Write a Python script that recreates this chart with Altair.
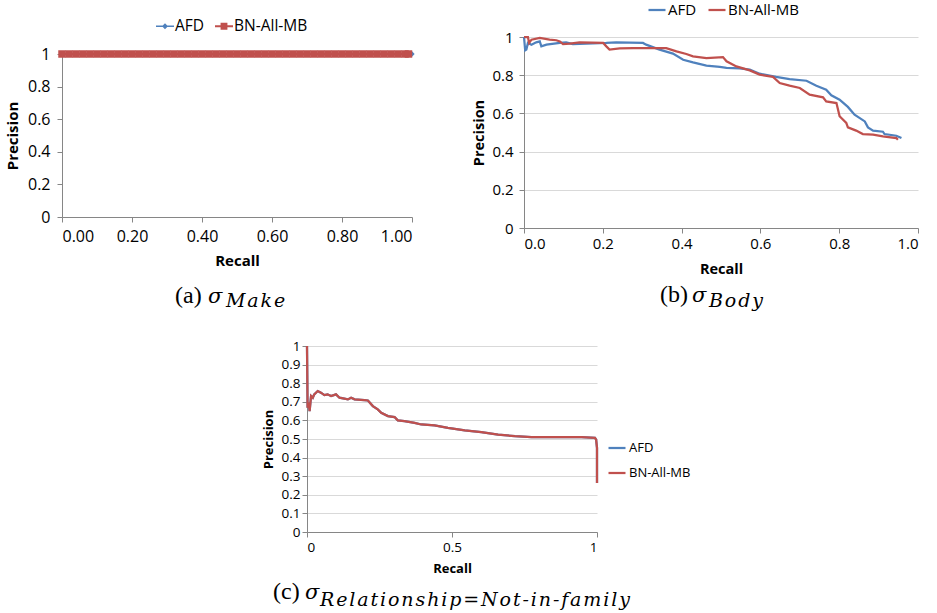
import altair as alt
import pandas as pd

FONT = "Open Sans"
SERIF = "Liberation Serif"
MATH = "DejaVu Serif"
BLUE = "#4F81BD"
RED = "#C0504D"
AXIS = "#868686"
GRID = "#D9D9D9"
SERIES = ["AFD", "BN-All-MB"]
HS = "\u200a"  # hair space, widens the math-italic subscripts

# ---------------- Panel (a): sigma_Make ----------------
a_recall_afd = [0.00, 0.02, 0.04, 0.06, 0.08, 0.10, 0.12, 0.14, 0.16, 0.18,
                0.20, 0.22, 0.24, 0.26, 0.28, 0.30, 0.32, 0.34, 0.36, 0.38,
                0.40, 0.42, 0.44, 0.46, 0.48, 0.50, 0.52, 0.54, 0.56, 0.58,
                0.60, 0.62, 0.64, 0.66, 0.68, 0.70, 0.72, 0.74, 0.76, 0.78,
                0.80, 0.82, 0.84, 0.86, 0.88, 0.90, 0.92, 0.94, 0.96, 0.98, 1.00]
a_prec_afd = [1.0, 1.0, 1.0, 1.0, 1.0, 1.0, 1.0, 1.0, 1.0, 1.0,
              1.0, 1.0, 1.0, 1.0, 1.0, 1.0, 1.0, 1.0, 1.0, 1.0,
              1.0, 1.0, 1.0, 1.0, 1.0, 1.0, 1.0, 1.0, 1.0, 1.0,
              1.0, 1.0, 1.0, 1.0, 1.0, 1.0, 1.0, 1.0, 1.0, 1.0,
              1.0, 1.0, 1.0, 1.0, 1.0, 1.0, 1.0, 1.0, 1.0, 1.0, 1.0]
a_recall_bn = [0.00, 0.02, 0.04, 0.06, 0.08, 0.10, 0.12, 0.14, 0.16, 0.18,
               0.20, 0.22, 0.24, 0.26, 0.28, 0.30, 0.32, 0.34, 0.36, 0.38,
               0.40, 0.42, 0.44, 0.46, 0.48, 0.50, 0.52, 0.54, 0.56, 0.58,
               0.60, 0.62, 0.64, 0.66, 0.68, 0.70, 0.72, 0.74, 0.76, 0.78,
               0.80, 0.82, 0.84, 0.86, 0.88, 0.90, 0.92, 0.94, 0.96, 0.98, 0.99]
a_prec_bn = [1.0, 1.0, 1.0, 1.0, 1.0, 1.0, 1.0, 1.0, 1.0, 1.0,
             1.0, 1.0, 1.0, 1.0, 1.0, 1.0, 1.0, 1.0, 1.0, 1.0,
             1.0, 1.0, 1.0, 1.0, 1.0, 1.0, 1.0, 1.0, 1.0, 1.0,
             1.0, 1.0, 1.0, 1.0, 1.0, 1.0, 1.0, 1.0, 1.0, 1.0,
             1.0, 1.0, 1.0, 1.0, 1.0, 1.0, 1.0, 1.0, 1.0, 1.0, 1.0]
a_xticks = [0.0, 0.2, 0.4, 0.6, 0.8, 1.0]
a_yticks = [0.0, 0.2, 0.4, 0.6, 0.8, 1.0]

# ---------------- Panel (b): sigma_Body ----------------
b_recall_afd = [0.000, 0.003, 0.006, 0.010, 0.019, 0.031, 0.040, 0.044, 0.057, 0.091,
                0.107, 0.124, 0.175, 0.209, 0.234, 0.302, 0.310, 0.344, 0.378, 0.404,
                0.429, 0.463, 0.497, 0.514, 0.547, 0.573, 0.598, 0.640, 0.674, 0.717,
                0.742, 0.767, 0.780, 0.801, 0.822, 0.839, 0.865, 0.873, 0.886, 0.911,
                0.915, 0.945, 0.958]
b_prec_afd = [1.000, 0.930, 0.934, 0.969, 0.960, 0.972, 0.977, 0.951, 0.960, 0.969,
              0.972, 0.963, 0.967, 0.969, 0.972, 0.969, 0.960, 0.934, 0.913, 0.881,
              0.867, 0.850, 0.843, 0.838, 0.836, 0.829, 0.808, 0.791, 0.780, 0.771,
              0.745, 0.724, 0.695, 0.672, 0.634, 0.593, 0.558, 0.527, 0.510, 0.504,
              0.492, 0.483, 0.471]
b_recall_bn = [0.000, 0.010, 0.013, 0.019, 0.040, 0.065, 0.082, 0.091, 0.099, 0.116,
               0.141, 0.201, 0.209, 0.217, 0.243, 0.277, 0.319, 0.361, 0.387, 0.412,
               0.429, 0.463, 0.505, 0.514, 0.539, 0.573, 0.598, 0.632, 0.649, 0.674,
               0.700, 0.725, 0.759, 0.767, 0.793, 0.801, 0.818, 0.822, 0.843, 0.860,
               0.886, 0.911, 0.945, 0.949]
b_prec_bn = [1.000, 1.000, 0.969, 0.986, 0.995, 0.986, 0.983, 0.977, 0.963, 0.965,
             0.972, 0.969, 0.951, 0.934, 0.941, 0.942, 0.942, 0.942, 0.925, 0.911,
             0.899, 0.890, 0.895, 0.873, 0.846, 0.825, 0.803, 0.791, 0.759, 0.745,
             0.733, 0.698, 0.684, 0.663, 0.654, 0.585, 0.550, 0.527, 0.510, 0.492,
             0.489, 0.480, 0.471, 0.462]
b_xticks = [0.0, 0.2, 0.4, 0.6, 0.8, 1.0]
b_yticks = [0.0, 0.2, 0.4, 0.6, 0.8, 1.0]

# ---------------- Panel (c): sigma_Relationship=Not-in-family ----------------
c_recall = [0.000, 0.002, 0.006, 0.009, 0.014, 0.020, 0.025, 0.037, 0.048, 0.060,
            0.071, 0.083, 0.100, 0.112, 0.141, 0.152, 0.164, 0.198, 0.210, 0.227,
            0.244, 0.256, 0.279, 0.302, 0.313, 0.336, 0.371, 0.394, 0.440, 0.486,
            0.544, 0.601, 0.659, 0.717, 0.774, 0.832, 0.947, 0.993, 0.997, 1.000, 1.000]
c_prec = [1.000, 0.668, 0.695, 0.650, 0.731, 0.722, 0.740, 0.758, 0.749, 0.736,
          0.740, 0.731, 0.740, 0.722, 0.713, 0.722, 0.713, 0.709, 0.707, 0.677,
          0.659, 0.641, 0.623, 0.618, 0.600, 0.596, 0.587, 0.578, 0.573, 0.560,
          0.546, 0.537, 0.524, 0.515, 0.510, 0.510, 0.510, 0.506, 0.497, 0.452, 0.264]
c_recall_afd, c_prec_afd = c_recall, c_prec
c_recall_bn, c_prec_bn = c_recall, c_prec
c_xticks = [0.0, 0.5, 1.0]
c_yticks = [0.0, 0.1, 0.2, 0.3, 0.4, 0.5, 0.6, 0.7, 0.8, 0.9, 1.0]


def long_df(pairs):
    rows = []
    for name, rec, pre in pairs:
        for i, (r, p) in enumerate(zip(rec, pre)):
            rows.append({"series": name, "recall": r, "precision": p, "i": i})
    return pd.DataFrame(rows)


def spaced(s):
    return HS.join(list(s))


def caption(parts):
    one = pd.DataFrame({"k": [0]})
    layers = []
    for text, x, y, font, size, style in parts:
        layers.append(
            alt.Chart(one).mark_text(text=text, font=font, fontSize=size, fontStyle=style,
                                     align="left", baseline="alphabetic", color="black")
            .encode(x=alt.value(x), y=alt.value(y))
        )
    return layers


def axis(title, values, fmt, lsize, tsize, grid, lpad, tpad):
    return alt.Axis(title=title, values=values, format=fmt, grid=grid, gridColor=GRID,
                    gridWidth=1, labelFontSize=lsize, titleFontSize=tsize,
                    titleFontWeight="bold", domainColor=AXIS, tickColor=AXIS,
                    tickSize=5, labelColor="black", titleColor="black",
                    labelFont=FONT, titleFont=FONT, labelPadding=lpad, titlePadding=tpad)


color_scale = alt.Scale(domain=SERIES, range=[BLUE, RED])

# ---- chart a ----
P_AFD = "M-1,-0.08L1,-0.08L1,0.08L-1,0.08Z M0,-0.33L0.33,0L0,0.33L-0.33,0Z"
P_BN = "M-1,-0.1L1,-0.1L1,0.1L-1,0.1Z M-0.38,-0.38L0.38,-0.38L0.38,0.38L-0.38,0.38Z"
leg_a = alt.Legend(
    orient="none", legendX=94, legendY=-20, direction="horizontal", title=None,
    labelFont=FONT, labelFontSize=15.5, labelColor="black", labelOffset=1,
    columnPadding=10, symbolSize=324, symbolStrokeWidth=0, padding=0)
a_df = long_df([("AFD", a_recall_afd, a_prec_afd), ("BN-All-MB", a_recall_bn, a_prec_bn)])
a_x = alt.X("recall:Q", scale=alt.Scale(domain=[0, 1]),
            axis=axis("Recall", a_xticks, ".2f", 16, 15, False, 6, 9))
a_y = alt.Y("precision:Q", scale=alt.Scale(domain=[0, 1], range=[180, 17]),
            axis=axis("Precision", a_yticks, ".1~f", 16, 15, False, 7, 7))
a_layers = []
for name, col, shp, sz in [("AFD", BLUE, "diamond", 28), ("BN-All-MB", RED, "square", 56)]:
    sub = a_df[a_df["series"] == name]
    a_layers.append(alt.Chart(sub).mark_line(strokeWidth=2, color=col).encode(x=a_x, y=a_y, order="i:Q"))
    a_layers.append(alt.Chart(sub).mark_point(filled=True, opacity=1, shape=shp, size=sz, color=col)
                    .encode(x=a_x, y=a_y))
empty = pd.DataFrame({"series": pd.Series([], dtype=str)})
a_leg = alt.Chart(empty).mark_point(filled=True, opacity=1, size=324).encode(
    color=alt.Color("series:N", scale=color_scale, legend=leg_a),
    shape=alt.Shape("series:N", scale=alt.Scale(domain=SERIES, range=[P_AFD, P_BN]), legend=leg_a))
chart_a = alt.layer(*a_layers, a_leg, *caption([
    ("(a)", 113, 266, SERIF, 24, "normal"),
    ("σ", 146, 266, MATH, 21, "italic"),
    (spaced("Make"), 164, 270, MATH, 19, "italic"),
])).properties(width=350, height=180)

# ---- chart b ----
leg_b = alt.Legend(
    orient="none", legendX=123, legendY=-37, direction="horizontal", title=None,
    labelFont=FONT, labelFontSize=15, labelColor="black", labelOffset=1,
    columnPadding=7, symbolType="stroke", symbolSize=289, symbolStrokeWidth=2.25, padding=0)
b_df = long_df([("AFD", b_recall_afd, b_prec_afd), ("BN-All-MB", b_recall_bn, b_prec_bn)])
b_line = alt.Chart(b_df).mark_line(strokeWidth=2.25).encode(
    x=alt.X("recall:Q", scale=alt.Scale(domain=[0, 1]),
            axis=axis("Recall", b_xticks, ".1f", 15, 14.5, False, 3, 11)),
    y=alt.Y("precision:Q", scale=alt.Scale(domain=[0, 1]),
            axis=axis("Precision", b_yticks, ".1~f", 15, 14.5, True, 6, 5)),
    color=alt.Color("series:N", scale=color_scale, legend=leg_b),
    order="i:Q")
chart_b = alt.layer(b_line, *caption([
    ("(b)", 136, 265, SERIF, 24, "normal"),
    ("σ", 168, 265, MATH, 21, "italic"),
    (spaced("Body"), 185, 270, MATH, 19, "italic"),
])).properties(width=394, height=191)

# ---- chart c ----
leg_c = alt.Legend(
    orient="none", legendX=300, legendY=92, direction="vertical", title=None,
    labelFont=FONT, labelFontSize=13, labelColor="black", labelOffset=2,
    rowPadding=8, symbolType="stroke", symbolSize=289, symbolStrokeWidth=2.25, padding=0)
c_df = long_df([("AFD", c_recall_afd, c_prec_afd), ("BN-All-MB", c_recall_bn, c_prec_bn)])
c_line = alt.Chart(c_df).mark_line(strokeWidth=2.25).encode(
    x=alt.X("recall:Q", scale=alt.Scale(domain=[0, 1]),
            axis=axis("Recall", c_xticks, ".1~f", 13.5, 13, False, 3, 9)),
    y=alt.Y("precision:Q", scale=alt.Scale(domain=[0, 1]),
            axis=axis("Precision", c_yticks, ".1~f", 13.5, 13, True, 2, 6)),
    color=alt.Color("series:N", scale=color_scale, legend=leg_c),
    order="i:Q")
chart_c = alt.layer(c_line, *caption([
    ("(c)", -34, 253, SERIF, 24, "normal"),
    ("σ", -2, 253, MATH, 21, "italic"),
    (spaced("Relationship=Not-in-family"), 13, 260, MATH, 19, "italic"),
])).properties(width=290, height=186)

# empty (white) spacer cell that pushes the bottom panel to the right
spacer = alt.Chart(pd.DataFrame({"k": [0]})).mark_text(
    text=".", color="white", fontSize=10, align="right", baseline="middle").encode(
    x=alt.value(200), y=alt.value(0)).properties(width=1, height=1)

top = alt.hconcat(chart_a, chart_b, spacing=112, bounds="flush").resolve_scale(
    color="independent", shape="independent").resolve_legend(
    color="independent", shape="independent")

bottom = alt.hconcat(spacer, chart_c, spacing=0).resolve_scale(
    color="independent").resolve_legend(color="independent")

chart = alt.vconcat(top, bottom, spacing=28).resolve_scale(
    color="independent", shape="independent").resolve_legend(
    color="independent", shape="independent").properties(
    padding={"left": 5, "top": 0, "right": 5, "bottom": 5}, background="white"
).configure_view(strokeWidth=0)

chart.save("out.html", embed_options={"renderer": "svg", "actions": False})
